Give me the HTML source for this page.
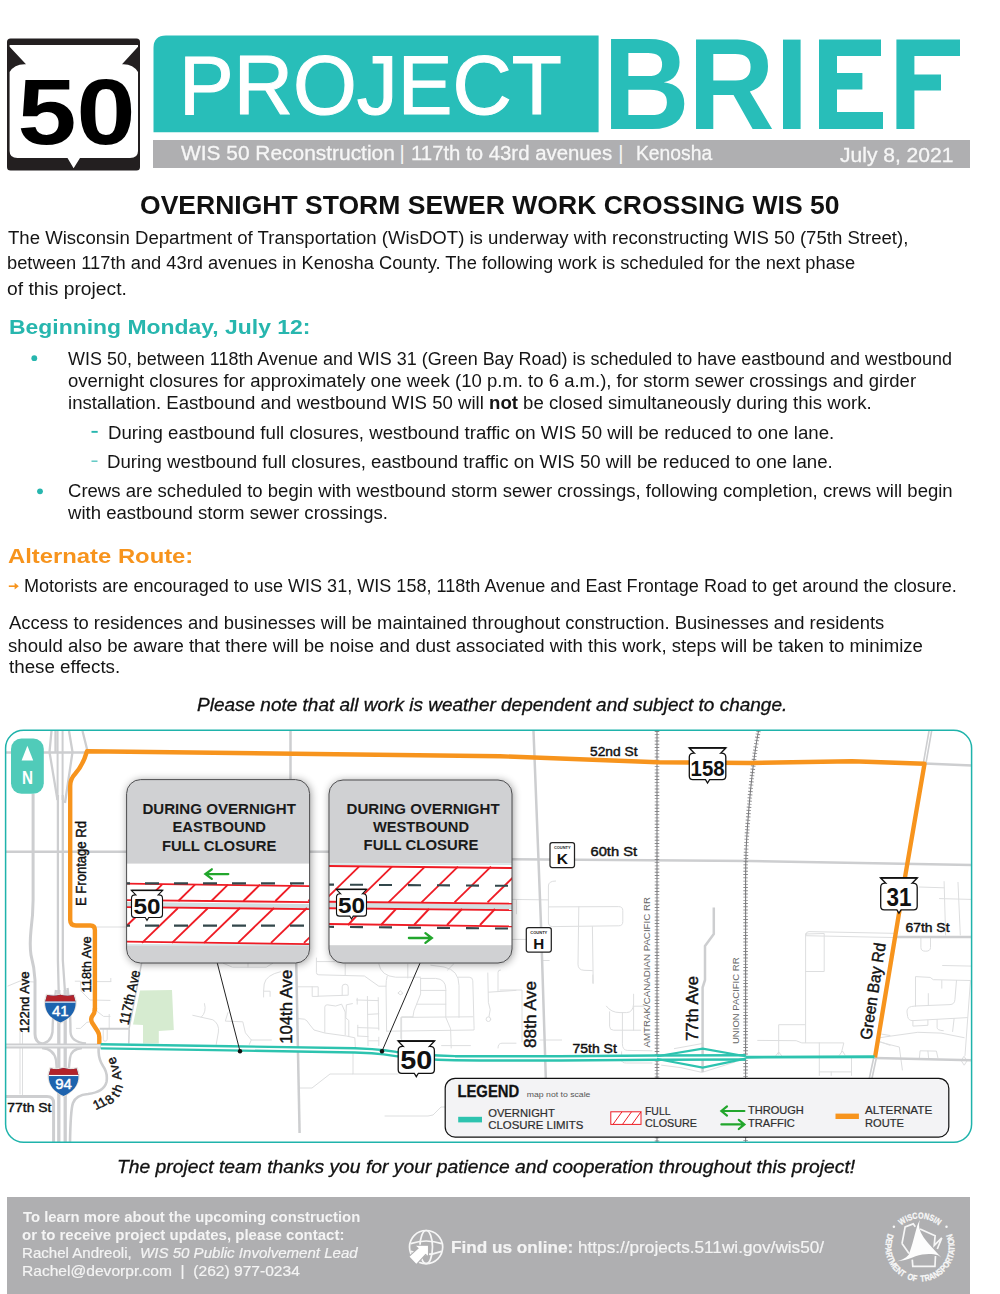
<!DOCTYPE html>
<html lang="en"><head><meta charset="utf-8"><title>WIS 50 Project Brief</title>
<style>
html,body{margin:0;padding:0;background:#fff}
body{width:1000px;height:1294px;position:relative;overflow:hidden;font-family:"Liberation Sans",sans-serif}
.t{position:absolute;white-space:pre;line-height:1;transform-origin:0 50%}
svg{position:absolute;left:0;top:0}
svg text{font-family:"Liberation Sans",sans-serif}
.gbar{position:absolute;background:#afafb1}
</style></head><body>
<svg width="1000" height="1294" viewBox="0 0 1000 1294">
<!-- WIS 50 shield -->
<rect x="7" y="38.5" width="133" height="132" rx="3.5" fill="#231f20"/>
<path d="M9.6 45 L138 45 L138 46.8 L122 64.2 Q133 63.6 138 72 L138 151 Q138 158 130 158 L80 158 L73.6 168.2 L67.5 158 L17.5 158 Q9.6 158 9.6 151 L9.6 72 Q14.5 63.6 26 64.2 L9.6 46.8 Z" fill="#fff"/>
<text x="76.5" y="143.6" font-size="93" font-weight="700" text-anchor="middle" textLength="118" lengthAdjust="spacingAndGlyphs" fill="#000">50</text>
<!-- teal title box -->
<path d="M153.5 132.3 L153.5 48 Q153.5 35.4 166 35.4 L598.6 35.4 L598.6 132.3 Z" fill="#28beb9"/>
<!-- I E F of BRIEF as exact bars -->
<g fill="#28beb9">
<rect x="783" y="39.6" width="17.6" height="89.4"/>
<path d="M819 39.6 H881 V56 H837 V73 H862.4 V89.4 H837 V112 H883 V129 H819 Z"/>
<path d="M896.4 39.6 H960 V56 H914.4 V74.4 H941 V90.6 H914.4 V129 H896.4 Z"/>
</g>
<!-- bullets -->
<circle cx="34.3" cy="358.2" r="2.9" fill="#27b6ae"/>
<circle cx="40" cy="491.3" r="2.9" fill="#27b6ae"/>
<rect x="91.5" y="430.9" width="6.2" height="1.9" fill="#27b6ae"/>
<rect x="91.5" y="460.6" width="6.0" height="1.1" fill="#27b6ae"/>
<!-- orange arrow -->
<path d="M8.8 586.2 H17" stroke="#f7941d" stroke-width="1.6" fill="none"/>
<path d="M14.6 582.8 L18.8 586.2 L14.6 589.6 Z" fill="#f7941d"/>
</svg>

<div class="gbar" style="left:153px;top:140px;width:817px;height:28px"></div>
<div class="gbar" style="left:7px;top:1197px;width:963px;height:97px"></div>
<svg width="1000" height="1294" viewBox="0 0 1000 1294">
<defs><clipPath id="mapclip"><rect x="5.6" y="730.3" width="966" height="412" rx="18"/></clipPath>
<filter id="sh" x="-15%" y="-15%" width="130%" height="135%"><feGaussianBlur in="SourceAlpha" stdDeviation="4.5"/><feOffset dx="0.5" dy="1.2"/><feComponentTransfer><feFuncA type="linear" slope="0.42"/></feComponentTransfer><feMerge><feMergeNode/><feMergeNode in="SourceGraphic"/></feMerge></filter>
<clipPath id="in1"><rect x="126.6" y="779.6" width="183" height="183.4" rx="14"/></clipPath>
<clipPath id="in2"><rect x="329" y="780" width="183" height="183" rx="14"/></clipPath>
</defs>
<rect x="5.6" y="730.3" width="966" height="412" rx="18" fill="#fff"/>
<g clip-path="url(#mapclip)">
<g fill="none" stroke="#dddedf" stroke-width="1" stroke-linecap="round" stroke-linejoin="round">
<path d="M20 1028 V1094"/>
<path d="M22.5 1032 V1096"/>
<path d="M8 986 L20 981 L34 982"/>
<path d="M75.2 981.2 H80.4 L81.2 991.2 L90 1000 L110 1000.4"/>
<path d="M97.2 981.6 H110.8 M110.8 978.4 V981.6"/>
<path d="M97 927 H127"/>
<path d="M96.4 1010.8 L103.6 1016.4 H110 M109.2 1014.4 V1028"/>
<path d="M76.4 1028.4 H80.4 L86.8 1022.4 L89.2 1022"/>
<path d="M103.2 1029.6 V1039.2 Q103.2 1041.2 105.2 1041.2 Q107.2 1041.2 107.2 1039.2 V1029.6"/>
<path d="M204.5 1003.6 Q206.8 1012 201.2 1017.2 L192.8 1015.3"/>
<path d="M201.2 1017.2 L212.9 1019.8 Q219.5 1024 218.4 1032 L216.2 1044.5"/>
<path d="M227.9 1012.7 L225.3 1021.1 L242.8 1021.8 L245.4 1032.8 L251.3 1040 H271.4 M251.3 1040 L249.3 1044.5"/>
<path d="M280.5 971.7 Q266 975 264.2 984 L263.6 991.2 V997 M263.6 991.2 H270.1 V996.4"/>
<path d="M223.3 963.3 L232.4 967.2 H266.2 L272.7 963.3 M248 963.3 V967.2"/>
<path d="M316.4 958 V972.4 Q316.4 974.8 318.8 974.8 L364.4 976 L378.8 986.2 H386"/>
<path d="M316.4 961.6 H345.2 M345.2 964 V974.8"/>
<path d="M378.8 964 Q381 976 395.6 977.2 H420.6"/>
<path d="M387.2 976 Q386 980 386 986.2 L386.6 1031"/>
<path d="M407.8 964 V978"/>
<path d="M297.8 986.8 H318.2 V996.4 H312.2 V986.8 M318.2 996.2 L348.2 995.2 V986.8 Q348.2 984.2 345.2 984.2 Q342.2 984.2 342.2 986.8 V995.2"/>
<path d="M324.8 1032.4 V1007.2 Q324.8 1004.8 327.2 1004.8 L335.6 1006 L341.6 1004.2 L345.2 1012 V1034.8"/>
<path d="M352.4 1003.6 L346.4 1004.8 L345.8 1018 L348.8 1020.4 V1036"/>
<path d="M298.4 1018.6 L304.4 1019.2 Q307 1020 309.2 1024 L314 1030 L324.8 1033 L346.4 1036 L354.8 1037.8 L355.4 1048"/>
<path d="M357.2 998.2 V1004.2 M367.4 996.4 L368 1045.6 M378.2 997.6 L378.8 1030 M378.8 1037.2 V1045.6 M357.8 1025.2 V1036"/>
<path d="M356.6 1000 L378.2 1000.6 M368 1014.4 L378.8 1013.8 M357.8 1027.6 L378.8 1028.2 M357.8 1036 L368 1036.6 M368.6 1040.8 H378.8"/>
<path d="M398.2 992.8 l2.2 -2 l2.6 2.6 l-2.4 1.2 z"/>
<path d="M401.6 1039.6 V1016.8 H412.8"/>
<path d="M386.6 1031.2 L474 1030 Q474.2 1029 474 1025.2 L472.8 980.8 Q472.6 977.2 469.2 977.2 H458.4"/>
<path d="M420.6 978.4 H435.6 Q445.8 979 445.8 989.2 V1017.4 L450.6 1028.8 L451.2 1048"/>
<path d="M420.6 978.4 V994 L414 1010.8 L412.8 1017.4"/>
<path d="M420.6 990.4 H445.8 M417 1004.2 H445.8"/>
<path d="M430.8 965.2 L444 967 Q459 970 459 985.6 V1017.4"/>
<path d="M447.6 970 L453.6 964"/>
<path d="M400.8 1038.4 V1017.4 L472.8 1016.8"/>
<path d="M441.6 1045.6 H470.4"/>
<path d="M487.8 973 L488.4 1002.4 L490.2 1009.6 L489 1016.6"/>
<path d="M488.4 992.2 L516 990.4 M498 991.6 V972.4 Q498 970 500.4 970"/>
<path d="M498 1048 Q498 1043.2 502 1043.2 H516"/>
<path d="M353 1048 V1074 H330 L312 1088 H299"/>
<path d="M353 1074 H398"/>
<path d="M385 1116 H428 Q434 1116 436 1112 L441 1107 H446"/>
<path d="M555.6 881 Q548.4 881 548.4 886 V922 Q548.4 926.6 552.6 926.6 L618.8 925.8 Q622.8 925.8 622.8 921.6 V910.6 Q622.8 906.6 618.6 906.6 L548.4 906.9"/>
<path d="M512 899.4 L548.4 899.9"/>
<path d="M516.4 900.2 V913.8"/>
<path d="M578.8 906.9 L578 964.2 Q578 970 584 970.3 L592.4 970.6"/>
<path d="M592.4 926.6 L593.2 983.4"/>
<path d="M512 939.4 H526"/>
<path d="M542 960.5 H549.2"/>
<path d="M500 990 H522 V1042"/>
<path d="M540 1040 H561.6"/>
<path d="M592.8 975 V983"/>
<path d="M606.4 1006.2 Q611 1012.6 620 1012.6 H626.4 Q633 1012.6 633.6 1004 V994.2"/>
<path d="M609.6 1011.8 V1026.2 Q609.6 1030.2 613.6 1030.2 H640.8"/>
<path d="M622.4 1012.6 V1043.8 Q622.4 1050 627.2 1050.4 L652 1050.8"/>
<path d="M633.6 1006.2 V1030.2 M633.6 1006.2 H644"/>
<path d="M621.6 1051.8 V1060 Q621.6 1063 626.4 1063 H652"/>
<path d="M674.4 1048.6 L702 1043.6 M661.6 1065.2 L680.8 1067.6 L702 1072.4 L735 1062"/>
<path d="M806 934.5 Q806 931.5 809 931.6 L897 933.4 M806 935.7 L897 937.6"/>
<path d="M805.6 934 V1042.5"/>
<path d="M805.6 934 L824.2 933.5 V971.5 H805.6"/>
<path d="M778.7 1054.4 V1024.7 H804.9"/>
<path d="M776 1055.5 L778.7 1052 L781.5 1055.5"/>
<path d="M757.7 1040.4 L796.2 1040.7 L801.8 1042.9 H843.8 L841.7 1051.6"/>
<path d="M839.5 1055 L842.4 1051 L845 1055"/>
<path d="M819.3 1042.9 V1075.4 M819.3 1071.9 H851.5 M851.5 1057.9 V1075.4 M831.2 1071.9 V1075.4"/>
<path d="M881.6 1034.1 L890 1035.5"/>
<path d="M880.2 1041.8 L890 1045.3"/>
<path d="M919.4 887 L944.1 887.8 M944.1 881.6 L945.6 935 M958 882.4 L960.3 935 M939.5 898.6 L971.1 899.4"/>
<path d="M920.9 938 V947.5 Q920.9 951.2 925.6 951.2 Q930.5 951.2 930.5 947.5 V938"/>
<path d="M942.6 965.5 L971.1 966.1"/>
<path d="M915.5 1006 V976.6 L930.2 977.4 L933.3 979.7 L970.4 980.5"/>
<path d="M941.8 980.5 V988.2"/>
<path d="M956.5 980.5 L954.9 999.8 Q954.5 1004.4 950 1004.6 L915.5 1006"/>
<path d="M928.3 993.6 V1005.2"/>
<path d="M915.5 1006 L911.5 1006.5 Q906.6 1007.5 907 1012 L907.6 1016.4 Q908.4 1020.8 913 1020.6 L967.3 1017.6"/>
<path d="M912.9 1020.7 V1026.1 L927.9 1025.3 V1020.2"/>
<path d="M937.1 1019.6 V1027.5 Q937.1 1030.4 943.3 1030.7"/>
<path d="M954.1 1018.7 L952.6 1031.5"/>
<path d="M878 1038 L890 1036.2 L917.8 1032.3 L941 1033.1 L964.2 1037.7"/>
<path d="M970.4 981.3 L965 1055.5"/>
<path d="M880 1042 L890 1044.7 L899.3 1047 L902.4 1070"/>
<path d="M919.4 1057.8 L920.1 1050.8 L936.4 1051.1 L937.9 1057.8 M927.9 1051.1 L928.6 1057.8"/>
<path d="M964.2 1056.6 l2.8 4.3 l-2.8 4.3 l-2.8 -4.3 z"/>
<circle cx="488.4" cy="1019.2" r="2.3"/>
</g>
<path d="M140 990.5 L172 990 L173.8 1030 L158.8 1031 L158.8 1043.5 L143 1043.5 L143 1025 L133 1024.5 Z" fill="#d6ebd0"/>
<g fill="none" stroke="#cdced0" stroke-linecap="butt" stroke-linejoin="round">
<path d="M5 1045.9 H101" stroke-width="5"/>
<path d="M33.1 794 V900 Q33 915 31 930 Q29.5 945 31 955 Q34.5 968 35 980 V1034 Q35 1042 42 1044" stroke-width="3"/>
<path d="M57.9 795 V960 L58.8 995 M62.8 795 V960 L65.2 995" stroke-width="2.3"/>
<path d="M58.8 990 V1143 M65.2 990 V1143" stroke-width="3.3"/>
<path d="M57.6 731 V800 M62.6 731 V800" stroke-width="2"/>
<path d="M51.5 731 L49.5 752 L57.5 800 M55.5 731 L55.5 752 M69 731 L72.5 752 L65 803 M82.5 731 L87.5 751" stroke-width="2.3"/>
<path d="M5 752.6 H86" stroke-width="2.5"/>
<path d="M5 851.7 H127" stroke-width="2.5"/>
<path d="M56 990 Q53 1010 52.5 1032 Q51 1043 40 1044" stroke-width="2.4"/>
<path d="M67.5 988 Q70.5 1010 70.5 1032 Q71 1042 86 1043.5" stroke-width="2.4"/>
<path d="M42 1048 Q54 1049 56 1060 L57 1072" stroke-width="2.4"/>
<path d="M82 1048 Q71 1049 70 1058 L68.5 1072" stroke-width="2.4"/>
<path d="M98.6 1048 V1052 Q99 1060 103 1066 Q108 1073 106.5 1082 Q104 1092 88 1094 Q76 1095 73 1103 Q70.5 1110 70 1143" stroke-width="2.6"/>
<path d="M5 1096.4 H47 Q53.6 1096.4 53.6 1103 V1143" stroke-width="3"/>
<path d="M99.6 1028.8 H129.2" stroke-width="2.1"/>
<path d="M141.8 962 L129.2 1028 L128.8 1043.5" stroke-width="1.5"/>
<path d="M290.5 731 V779" stroke-width="2.5"/>
<path d="M296.2 962 L299.6 1133" stroke-width="2.5"/>
<path d="M533.5 731 L541 925 L545.8 1078" stroke-width="2.5"/>
<path d="M512 859.3 L750 861 L972 865" stroke-width="2.5"/>
<path d="M310 851.7 H329" stroke-width="2.5"/>
<path d="M713.8 907.5 V934 L705 946 V980 L702.6 987.5 V1072" stroke-width="2.5"/>
<path d="M924.5 763.5 L972 765.5" stroke-width="2.5"/>
<path d="M924.5 764 L930.5 730" stroke-width="4.2"/>
<path d="M875 1058 L972 1060.3" stroke-width="2.5"/>
<path d="M875 1058 L870.5 1079" stroke-width="4.2"/>
<path d="M897 937 H972" stroke-width="2.5"/>
</g>
<g fill="none" stroke="#fff" stroke-width="1">
<path d="M5 1045.9 H101"/><path d="M924.7 763 L930.5 730"/><path d="M874.8 1059 L870.5 1079"/>
</g>
<path d="M657 731 V1143" fill="none" stroke="#8a8a8c" stroke-width="4.6" stroke-dasharray="0.9 2.3"/>
<path d="M657 731 V1143" fill="none" stroke="#7d7d80" stroke-width="1.1"/>
<path d="M758.5 731 Q752 765 747.6 825 Q745.6 850 745.6 880 V1143" fill="none" stroke="#8a8a8c" stroke-width="4.6" stroke-dasharray="0.9 2.3"/>
<path d="M758.5 731 Q752 765 747.6 825 Q745.6 850 745.6 880 V1143" fill="none" stroke="#7d7d80" stroke-width="1.1"/>
<path d="M94.9 1008 V1009 Q94.9 1013 92.3 1016 Q90.3 1019 92 1022.5 L97.8 1031.5 Q99.3 1034 99.3 1037 V1044" fill="none" stroke="#f7941d" stroke-width="4.4" stroke-linejoin="round"/>
<path d="M94.9 1011 V930 Q94.9 925.5 90.5 925.5 H76 Q70.2 925.5 70.2 920 V786 Q70.2 779 75 774 Q83 765 86.5 752.6 L87 751.3 L500 756.2 L657.5 762.3 L750 763 L852 761.3 L924.5 763.8 L905.4 875 L875 1057.5" fill="none" stroke="#f7941d" stroke-width="4.4" stroke-linejoin="round"/>
<g fill="none" stroke="#2dc3af">
<path d="M100.7 1046.3 L230 1048.3 L355 1050.4 L372 1051.2 L384 1052.3 L396 1054 L410 1055.6 L424 1056.8 L438 1057.6 L455 1058.2 L480 1058.4 L560 1058.4 L657 1057.6 L745.6 1057.4" stroke-width="6.6"/>
<path d="M100.7 1046.3 L230 1048.3 L355 1050.4 L372 1051.2 L384 1052.3 L396 1054 L410 1055.6 L424 1056.8 L438 1057.6 L455 1058.2 L480 1058.4 L560 1058.4 L657 1057.6 L745.6 1057.4" stroke="#fff" stroke-width="1.8"/>
<path d="M657 1056.2 L702.7 1048.6 L745.6 1056.2 M657 1059 L702.7 1067.6 L745.6 1058.6" stroke-width="2.1" stroke-linejoin="miter"/>
<path d="M745.6 1057.2 L874.5 1056.7" stroke-width="2.9"/>
</g>
</g>
<text x="590.00" y="756.00" font-size="12.5" font-weight="400" text-anchor="start" fill="#111" stroke="#111" stroke-width="0.42" textLength="47.5" lengthAdjust="spacingAndGlyphs">52nd St</text>
<text x="590.50" y="856.00" font-size="12.5" font-weight="400" text-anchor="start" fill="#111" stroke="#111" stroke-width="0.42" textLength="46.5" lengthAdjust="spacingAndGlyphs">60th St</text>
<text x="905.50" y="932.00" font-size="12.5" font-weight="400" text-anchor="start" fill="#111" stroke="#111" stroke-width="0.42" textLength="44.0" lengthAdjust="spacingAndGlyphs">67th St</text>
<text x="572.50" y="1052.50" font-size="12.5" font-weight="400" text-anchor="start" fill="#111" stroke="#111" stroke-width="0.42" textLength="44.3" lengthAdjust="spacingAndGlyphs">75th St</text>
<text x="7.30" y="1112.00" font-size="12.5" font-weight="400" text-anchor="start" fill="#111" stroke="#111" stroke-width="0.42" textLength="44.2" lengthAdjust="spacingAndGlyphs">77th St</text>
<text x="86.20" y="906.00" font-size="14.5" font-weight="400" text-anchor="start" fill="#111" stroke="#111" stroke-width="0.42" textLength="85.0" lengthAdjust="spacingAndGlyphs" transform="rotate(-90.00 86.20 906.00)">E Frontage Rd</text>
<text x="29.30" y="1033.00" font-size="13.5" font-weight="400" text-anchor="start" fill="#111" stroke="#111" stroke-width="0.42" textLength="61.5" lengthAdjust="spacingAndGlyphs" transform="rotate(-90.00 29.30 1033.00)">122nd Ave</text>
<text x="91.40" y="992.40" font-size="13.5" font-weight="400" text-anchor="start" fill="#111" stroke="#111" stroke-width="0.42" textLength="56.0" lengthAdjust="spacingAndGlyphs" transform="rotate(-90.00 91.40 992.40)">118th Ave</text>
<text x="128.40" y="1025.40" font-size="14" font-weight="400" text-anchor="start" fill="#111" stroke="#111" stroke-width="0.42" textLength="55.5" lengthAdjust="spacingAndGlyphs" transform="rotate(-77.50 128.40 1025.40)">117th Ave</text>
<text x="99.0" y="1108.7" font-size="13" text-anchor="middle" fill="#111" stroke="#111" stroke-width="0.42" transform="rotate(-27 99.0 1108.7)">1</text>
<text x="104.6" y="1106.0" font-size="13" text-anchor="middle" fill="#111" stroke="#111" stroke-width="0.42" transform="rotate(-31 104.6 1106.0)">1</text>
<text x="112.4" y="1103.0" font-size="13" text-anchor="middle" fill="#111" stroke="#111" stroke-width="0.42" transform="rotate(-41 112.4 1103.0)">8</text>
<text x="118.9" y="1096.8" font-size="13" text-anchor="middle" fill="#111" stroke="#111" stroke-width="0.42" transform="rotate(-55 118.9 1096.8)">t</text>
<text x="122.0" y="1089.6" font-size="13" text-anchor="middle" fill="#111" stroke="#111" stroke-width="0.42" transform="rotate(-70 122.0 1089.6)">h</text>
<text x="121.2" y="1075.2" font-size="13" text-anchor="middle" fill="#111" stroke="#111" stroke-width="0.42" transform="rotate(-95 121.2 1075.2)">A</text>
<text x="118.4" y="1067.2" font-size="13" text-anchor="middle" fill="#111" stroke="#111" stroke-width="0.42" transform="rotate(-105 118.4 1067.2)">v</text>
<text x="115.9" y="1059.4" font-size="13" text-anchor="middle" fill="#111" stroke="#111" stroke-width="0.42" transform="rotate(-112 115.9 1059.4)">e</text>
<text x="292.20" y="1043.80" font-size="17" font-weight="400" text-anchor="start" fill="#111" stroke="#111" stroke-width="0.42" textLength="74.0" lengthAdjust="spacingAndGlyphs" transform="rotate(-90.00 292.20 1043.80)">104th Ave</text>
<text x="535.50" y="1048.00" font-size="17" font-weight="400" text-anchor="start" fill="#111" stroke="#111" stroke-width="0.42" textLength="67.0" lengthAdjust="spacingAndGlyphs" transform="rotate(-90.00 535.50 1048.00)">88th Ave</text>
<text x="698.00" y="1041.00" font-size="17" font-weight="400" text-anchor="start" fill="#111" stroke="#111" stroke-width="0.42" textLength="65.0" lengthAdjust="spacingAndGlyphs" transform="rotate(-90.00 698.00 1041.00)">77th Ave</text>
<text x="871.30" y="1040.20" font-size="16.5" font-weight="400" text-anchor="start" fill="#111" stroke="#111" stroke-width="0.42" textLength="97.5" lengthAdjust="spacingAndGlyphs" transform="rotate(-81.50 871.30 1040.20)">Green Bay Rd</text>
<text x="650.30" y="1047.50" font-size="8.6" font-weight="400" text-anchor="start" fill="#666" textLength="150.5" lengthAdjust="spacingAndGlyphs" transform="rotate(-90.00 650.30 1047.50)">AMTRAK/CANADIAN PACIFIC RR</text>
<text x="738.80" y="1044.00" font-size="8.6" font-weight="400" text-anchor="start" fill="#666" textLength="86.5" lengthAdjust="spacingAndGlyphs" transform="rotate(-90.00 738.80 1044.00)">UNION PACIFIC RR</text>
<path d="M689.10 747.80 L726.00 747.80 L720.67 753.18 Q725.80 752.88 725.80 757.09 L725.80 776.08 Q725.80 779.63 722.25 779.63 L709.61 779.63 L707.55 783.00 L705.49 779.63 L692.85 779.63 Q689.30 779.63 689.30 776.08 L689.30 757.09 Q689.30 752.88 694.42 753.18 Z" fill="#fff" stroke="#111" stroke-width="1.30" stroke-linejoin="miter"/>
<path d="M689.20 747.90 H725.90" stroke="#111" stroke-width="1.69"/>
<text x="707.55" y="775.72" font-size="22.7" font-weight="700" text-anchor="middle" fill="#111" textLength="34.0" lengthAdjust="spacingAndGlyphs">158</text>
<path d="M880.50 877.80 L917.40 877.80 L912.08 883.21 Q917.20 882.91 917.20 887.14 L917.20 906.24 Q917.20 909.81 913.63 909.81 L901.01 909.81 L898.95 913.20 L896.89 909.81 L884.27 909.81 Q880.70 909.81 880.70 906.24 L880.70 887.14 Q880.70 882.91 885.83 883.21 Z" fill="#fff" stroke="#111" stroke-width="1.30" stroke-linejoin="miter"/>
<path d="M880.60 877.90 H917.30" stroke="#111" stroke-width="1.69"/>
<text x="898.95" y="905.88" font-size="25.9" font-weight="700" text-anchor="middle" fill="#111" textLength="25.0" lengthAdjust="spacingAndGlyphs">31</text>
<path d="M398.00 1041.00 L434.60 1041.00 L429.32 1046.46 Q434.40 1046.16 434.40 1050.42 L434.40 1069.68 Q434.40 1073.28 430.80 1073.28 L418.35 1073.28 L416.30 1076.70 L414.25 1073.28 L401.80 1073.28 Q398.20 1073.28 398.20 1069.68 L398.20 1050.42 Q398.20 1046.16 403.28 1046.46 Z" fill="#fff" stroke="#111" stroke-width="1.30" stroke-linejoin="miter"/>
<path d="M398.10 1041.10 H434.50" stroke="#111" stroke-width="1.69"/>
<text x="416.30" y="1069.32" font-size="26.1" font-weight="700" text-anchor="middle" fill="#111" textLength="32.0" lengthAdjust="spacingAndGlyphs">50</text>
<rect x="550.00" y="842.50" width="24.50" height="25.00" rx="2.2" fill="#fff" stroke="#222" stroke-width="1.25"/>
<text x="562.25" y="849.00" font-size="4" font-weight="700" text-anchor="middle" fill="#222" textLength="16.7" lengthAdjust="spacingAndGlyphs">COUNTY</text>
<text x="562.25" y="864.00" font-size="15.5" font-weight="700" text-anchor="middle" fill="#111">K</text>
<rect x="526.30" y="927.50" width="25.00" height="24.50" rx="2.2" fill="#fff" stroke="#222" stroke-width="1.25"/>
<text x="538.80" y="933.87" font-size="4" font-weight="700" text-anchor="middle" fill="#222" textLength="17.0" lengthAdjust="spacingAndGlyphs">COUNTY</text>
<text x="538.80" y="948.57" font-size="15.19" font-weight="700" text-anchor="middle" fill="#111">H</text>
<path d="M46.23 994.20 Q52.97 995.85 60.35 993.90 Q67.73 995.85 74.47 994.20 L76.40 1001.10 C76.88 1011.60 69.98 1018.20 60.35 1023.60 C50.72 1018.20 43.82 1011.60 44.30 1001.10 Z" fill="#f3ece4" stroke="#d9d2cc" stroke-width="0.5"/>
<clipPath id="ic1436"><path d="M47.03 995.00 Q53.77 996.65 60.35 994.70 Q66.93 996.65 73.67 995.00 L75.60 1001.90 C76.08 1012.40 69.18 1019.00 60.35 1022.48 C51.52 1019.00 44.62 1012.40 45.10 1001.90 Z"/></clipPath>
<g clip-path="url(#ic1436)"><rect x="44.30" y="993.60" width="32.10" height="30.00" fill="#1d63ae"/><rect x="44.30" y="993.60" width="32.10" height="7.95" fill="#b2232a"/><rect x="44.30" y="1001.55" width="32.10" height="1.1" fill="#fff"/></g>
<text x="60.35" y="1015.95" font-size="15.0" text-anchor="middle" fill="#fff" stroke="#fff" stroke-width="0.45">41</text>
<path d="M49.78 1067.60 Q56.38 1069.25 63.60 1067.30 Q70.82 1069.25 77.42 1067.60 L79.30 1074.50 C79.77 1085.00 73.02 1091.60 63.60 1097.00 C54.18 1091.60 47.43 1085.00 47.90 1074.50 Z" fill="#f3ece4" stroke="#d9d2cc" stroke-width="0.5"/>
<clipPath id="ic1546"><path d="M50.58 1068.40 Q57.18 1070.05 63.60 1068.10 Q70.02 1070.05 76.62 1068.40 L78.50 1075.30 C78.97 1085.80 72.22 1092.40 63.60 1095.88 C54.98 1092.40 48.23 1085.80 48.70 1075.30 Z"/></clipPath>
<g clip-path="url(#ic1546)"><rect x="47.90" y="1067.00" width="31.40" height="30.00" fill="#1d63ae"/><rect x="47.90" y="1067.00" width="31.40" height="7.95" fill="#b2232a"/><rect x="47.90" y="1074.95" width="31.40" height="1.1" fill="#fff"/></g>
<text x="63.60" y="1089.35" font-size="15.0" text-anchor="middle" fill="#fff" stroke="#fff" stroke-width="0.45">94</text>
<path d="M217 962 L240 1051.2 M420.5 962 L382 1051.2" stroke="#222" stroke-width="1" fill="none"/>
<circle cx="240" cy="1051.3" r="2.2" fill="#111"/><circle cx="382" cy="1051.3" r="2.2" fill="#111"/>
<g filter="url(#sh)"><rect x="126.6" y="779.6" width="183.0" height="183.4" rx="14" fill="#d0d1d3"/></g>
<g clip-path="url(#in1)">
<rect x="126.6" y="863.6" width="183.0" height="81" fill="#fff"/>
<rect x="126.6" y="944.2" width="183.0" height="1.6" fill="#d7e6e8"/>
<path d="M126.6 902 L309.6 904 L309.6 908.6 L126.6 906.6 Z" fill="#d2dfe1"/>
<g stroke="#ee1c25" stroke-width="1.85" fill="none">
<path d="M126.6 883.70 L309.6 886.10"/>
<path d="M126.6 900.10 L309.6 902.10"/>
<path d="M126.6 907.10 L309.6 909.10"/>
<path d="M126.6 941.70 L309.6 944.10"/>
<path d="M162.00 884.70 L145.40 901.00"/>
<path d="M195.00 884.70 L178.40 901.00"/>
<path d="M228.00 884.70 L211.40 901.00"/>
<path d="M260.00 884.70 L243.40 901.00"/>
<path d="M292.00 884.70 L275.40 901.00"/>
<path d="M325.00 884.70 L308.40 901.00"/>
<path d="M145.00 908.00 L109.00 942.80"/>
<path d="M178.00 908.00 L142.00 942.80"/>
<path d="M208.00 908.00 L172.00 942.80"/>
<path d="M240.00 908.00 L204.00 942.80"/>
<path d="M274.00 908.00 L238.00 942.80"/>
<path d="M307.00 908.00 L271.00 942.80"/>
<path d="M340.00 908.00 L304.00 942.80"/>
</g>
<path d="M126.6 883.4 H309.6" stroke="#33474b" stroke-width="2.1" stroke-dasharray="14 15" stroke-dashoffset="10.6" fill="none"/>
<path d="M126.6 925.6 H309.6" stroke="#33474b" stroke-width="2.1" stroke-dasharray="14 15" stroke-dashoffset="10.6" fill="none"/>
<path d="M228.3 874.1 H206.2 M211.8 869.3 L205.4 874.1 L211.8 878.9" stroke="#22a62c" stroke-width="2.3" stroke-linecap="round" fill="none"/>
</g>
<rect x="126.6" y="779.6" width="183.0" height="183.4" rx="14" fill="none" stroke="#4d4d4f" stroke-width="1"/>
<g filter="url(#sh)"><rect x="329.0" y="780.0" width="183.0" height="183.0" rx="14" fill="#d0d1d3"/></g>
<g clip-path="url(#in2)">
<rect x="329.0" y="863.2" width="183.0" height="82" fill="#fff"/>
<rect x="329.0" y="863.2" width="183.0" height="1.8" fill="#d7e6e8"/>
<path d="M329.0 902.6 L512.0 904.6 L512.0 909.4 L329.0 907.4 Z" fill="#d2dfe1"/>
<g stroke="#ee1c25" stroke-width="1.85" fill="none">
<path d="M329.0 866.00 L512.0 868.00"/>
<path d="M329.0 901.70 L512.0 903.70"/>
<path d="M329.0 908.20 L512.0 910.20"/>
<path d="M329.0 924.00 L512.0 926.40"/>
<path d="M326.00 866.60 L289.50 902.40"/>
<path d="M359.00 866.60 L322.50 902.40"/>
<path d="M392.00 866.60 L355.50 902.40"/>
<path d="M425.00 866.60 L388.50 902.40"/>
<path d="M458.00 866.60 L421.50 902.40"/>
<path d="M491.00 866.60 L454.50 902.40"/>
<path d="M524.00 866.60 L487.50 902.40"/>
<path d="M557.00 866.60 L520.50 902.40"/>
<path d="M363.00 909.00 L348.00 925.00"/>
<path d="M396.00 909.00 L381.00 925.00"/>
<path d="M429.00 909.00 L414.00 925.00"/>
<path d="M462.00 909.00 L447.00 925.00"/>
<path d="M495.00 909.00 L480.00 925.00"/>
<path d="M528.00 909.00 L513.00 925.00"/>
</g>
<path d="M329.0 884.6 L512.0 885.8" stroke="#33474b" stroke-width="2.1" stroke-dasharray="13 16" stroke-dashoffset="8" fill="none"/>
<path d="M329.0 926.8 L512.0 928.6" stroke="#33474b" stroke-width="2.1" stroke-dasharray="13 16" stroke-dashoffset="8" fill="none"/>
<path d="M408.9 938 H431 M425.4 933.2 L431.8 938 L425.4 942.8" stroke="#22a62c" stroke-width="2.3" stroke-linecap="round" fill="none"/>
</g>
<rect x="329.0" y="780.0" width="183.0" height="183.0" rx="14" fill="none" stroke="#4d4d4f" stroke-width="1"/>
<path d="M131.30 890.30 L162.70 890.30 L158.20 894.86 Q162.50 894.56 162.50 898.21 L162.50 914.47 Q162.50 917.51 159.46 917.51 L148.76 917.51 L147.00 920.40 L145.24 917.51 L134.54 917.51 Q131.50 917.51 131.50 914.47 L131.50 898.21 Q131.50 894.56 135.80 894.86 Z" fill="#fff" stroke="#111" stroke-width="1.10" stroke-linejoin="miter"/>
<path d="M131.40 890.40 H162.60" stroke="#111" stroke-width="1.43"/>
<text x="147.00" y="914.17" font-size="22.0" font-weight="700" text-anchor="middle" fill="#111" textLength="27.0" lengthAdjust="spacingAndGlyphs">50</text>
<path d="M336.30 889.30 L366.70 889.30 L362.35 893.80 Q366.50 893.50 366.50 897.10 L366.50 913.15 Q366.50 916.15 363.50 916.15 L353.20 916.15 L351.50 919.00 L349.80 916.15 L339.50 916.15 Q336.50 916.15 336.50 913.15 L336.50 897.10 Q336.50 893.50 340.65 893.80 Z" fill="#fff" stroke="#111" stroke-width="1.10" stroke-linejoin="miter"/>
<path d="M336.40 889.40 H366.60" stroke="#111" stroke-width="1.43"/>
<text x="351.50" y="912.85" font-size="21.8" font-weight="700" text-anchor="middle" fill="#111" textLength="27.0" lengthAdjust="spacingAndGlyphs">50</text>
<text x="142.40" y="814.00" font-size="14.3" font-weight="700" text-anchor="start" fill="#1a1a1a" textLength="153.6" lengthAdjust="spacingAndGlyphs">DURING OVERNIGHT</text>
<text x="172.40" y="832.40" font-size="14.3" font-weight="700" text-anchor="start" fill="#1a1a1a" textLength="93.6" lengthAdjust="spacingAndGlyphs">EASTBOUND</text>
<text x="162.00" y="850.60" font-size="14.3" font-weight="700" text-anchor="start" fill="#1a1a1a" textLength="114.4" lengthAdjust="spacingAndGlyphs">FULL CLOSURE</text>
<text x="346.60" y="813.60" font-size="14.3" font-weight="700" text-anchor="start" fill="#1a1a1a" textLength="153.0" lengthAdjust="spacingAndGlyphs">DURING OVERNIGHT</text>
<text x="373.00" y="832.00" font-size="14.3" font-weight="700" text-anchor="start" fill="#1a1a1a" textLength="96.0" lengthAdjust="spacingAndGlyphs">WESTBOUND</text>
<text x="363.60" y="850.00" font-size="14.3" font-weight="700" text-anchor="start" fill="#1a1a1a" textLength="114.8" lengthAdjust="spacingAndGlyphs">FULL CLOSURE</text>
<rect x="445.2" y="1078.3" width="503.6" height="58.8" rx="10" fill="#f3f3f5" stroke="#111" stroke-width="1.2"/>
<text x="457.40" y="1097.20" font-size="17.2" font-weight="700" text-anchor="start" fill="#111" stroke="#111" stroke-width="0.30" textLength="61.8" lengthAdjust="spacingAndGlyphs">LEGEND</text>
<text x="526.80" y="1097.00" font-size="8" font-weight="400" text-anchor="start" fill="#555" textLength="63.6" lengthAdjust="spacingAndGlyphs">map not to scale</text>
<rect x="458.2" y="1116.8" width="23.8" height="5.6" fill="#2dc3af"/>
<text x="488.20" y="1117.40" font-size="11" font-weight="400" text-anchor="start" fill="#2e2e2e" stroke="#2e2e2e" stroke-width="0.20" textLength="66.6" lengthAdjust="spacingAndGlyphs">OVERNIGHT</text>
<text x="488.20" y="1129.40" font-size="11" font-weight="400" text-anchor="start" fill="#2e2e2e" stroke="#2e2e2e" stroke-width="0.20" textLength="95.2" lengthAdjust="spacingAndGlyphs">CLOSURE LIMITS</text>
<rect x="610.8" y="1111.8" width="30.2" height="12.6" fill="#fff" stroke="#ed1c24" stroke-width="1"/>
<path d="M613 1124.4 L622 1111.8 M622.5 1124.4 L631.5 1111.8 M632 1124.4 L641 1111.8" stroke="#ed1c24" stroke-width="1" fill="none"/>
<text x="645.00" y="1114.60" font-size="11" font-weight="400" text-anchor="start" fill="#2e2e2e" stroke="#2e2e2e" stroke-width="0.20" textLength="25.5" lengthAdjust="spacingAndGlyphs">FULL</text>
<text x="645.00" y="1126.60" font-size="11" font-weight="400" text-anchor="start" fill="#2e2e2e" stroke="#2e2e2e" stroke-width="0.20" textLength="52.0" lengthAdjust="spacingAndGlyphs">CLOSURE</text>
<path d="M744.4 1111 H722 M727 1106.4 L721.4 1111 L727 1115.6" stroke="#22a62c" stroke-width="2.2" stroke-linecap="round" fill="none"/>
<path d="M721.4 1124.4 H743.8 M738.8 1119.8 L744.4 1124.4 L738.8 1129" stroke="#22a62c" stroke-width="2.2" stroke-linecap="round" fill="none"/>
<text x="748.00" y="1114.30" font-size="11" font-weight="400" text-anchor="start" fill="#2e2e2e" stroke="#2e2e2e" stroke-width="0.20" textLength="55.8" lengthAdjust="spacingAndGlyphs">THROUGH</text>
<text x="748.00" y="1127.00" font-size="11" font-weight="400" text-anchor="start" fill="#2e2e2e" stroke="#2e2e2e" stroke-width="0.20" textLength="46.8" lengthAdjust="spacingAndGlyphs">TRAFFIC</text>
<rect x="835.5" y="1113.6" width="23.4" height="5.4" fill="#f7941d"/>
<text x="865.00" y="1114.30" font-size="11" font-weight="400" text-anchor="start" fill="#2e2e2e" stroke="#2e2e2e" stroke-width="0.20" textLength="67.3" lengthAdjust="spacingAndGlyphs">ALTERNATE</text>
<text x="865.00" y="1127.00" font-size="11" font-weight="400" text-anchor="start" fill="#2e2e2e" stroke="#2e2e2e" stroke-width="0.20" textLength="38.8" lengthAdjust="spacingAndGlyphs">ROUTE</text>
<rect x="11" y="738.5" width="32.8" height="55.3" rx="10.5" fill="#50cbb9"/>
<path d="M27.4 745.8 L33.2 760.4 L21.6 760.4 Z" fill="#fff"/>
<text x="27.5" y="783.8" font-size="17.5" font-weight="700" text-anchor="middle" fill="#fff" textLength="11" lengthAdjust="spacingAndGlyphs">N</text>
<rect x="5.6" y="730.3" width="966" height="412" rx="18" fill="none" stroke="#1fb3ab" stroke-width="1.5"/>
</svg>
<svg width="1000" height="1294" viewBox="0 0 1000 1294">
<!-- globe icon -->
<g fill="none" stroke="#f6f6f6" stroke-width="1.7">
<circle cx="426.1" cy="1247.1" r="16.6"/>
<ellipse cx="426.2" cy="1247.1" rx="6.3" ry="16.6"/>
<path d="M410.6 1243.6 Q426.2 1238.4 441.8 1243.6 M410.8 1251.4 Q426.2 1257.4 441.6 1251.4"/>
</g>
<path d="M414.4 1245.3 L428.5 1245.3 L428.5 1256.8 L425.6 1254.4 L416.3 1264.6 L408.8 1256.7 L418 1248.2 Z" fill="#fff" stroke="#afafb1" stroke-width="1.1" stroke-linejoin="miter"/>
<!-- WisDOT seal -->
<g transform="translate(875 1202) scale(0.09)">
<path d="M300 462 L335 276 L425 243 L448 275 M500 300 L668 375 L658 482 L742 398 L692 522 M672 600 L666 716 L420 716 L414 640 M378 572 L300 462" fill="none" stroke="#f6f6f6" stroke-width="19" stroke-linejoin="miter"/>
<path d="M500 200 C455 260 440 420 375 585 C340 625 290 650 240 657 C330 652 400 622 450 602 C540 570 640 570 700 592 C725 605 745 625 762 652 C720 590 620 500 560 420 C510 350 470 280 500 200 Z" fill="#fdfdfd"/>
</g>
<defs>
<path id="arcTop" d="M891.5 1247 A28.4 28.4 0 0 1 948.3 1247"/>
<path id="arcBot" d="M888.15 1233.48 A34.6 34.6 0 1 0 951.61 1232.93"/>
</defs>
<text font-size="8.8" font-weight="700" fill="#f8f8f8" stroke="#f8f8f8" stroke-width="0.25" text-anchor="middle"><textPath href="#arcTop" startOffset="50%" textLength="41" lengthAdjust="spacingAndGlyphs">WISCONSIN</textPath></text>
<circle cx="893.9" cy="1226.8" r="1.25" fill="#f6f6f6"/><circle cx="946.5" cy="1226.8" r="1.25" fill="#f6f6f6"/>
<text font-size="8.8" font-weight="700" fill="#f8f8f8" stroke="#f8f8f8" stroke-width="0.25"><textPath href="#arcBot" startOffset="0" textLength="136.1" lengthAdjust="spacingAndGlyphs">DEPARTMENT &#160;OF &#160;TRANSPORTATION</textPath></text>
</svg>

<div class="t" style="left:179.14px;top:43.39px;font-size:84px;color:#fff;transform:scaleX(0.9766);-webkit-text-stroke:1.1px #fff;">PROJECT</div>
<div class="t" style="left:602.68px;top:18.95px;font-size:130px;color:#28beb9;font-weight:700;transform:scaleX(0.9241);">B</div>
<div class="t" style="left:687.70px;top:18.95px;font-size:130px;color:#28beb9;font-weight:700;transform:scaleX(0.9220);">R</div>
<div class="t" style="left:180.50px;top:143.07px;font-size:20px;color:#f6f6f6;transform:scaleX(1.0453);-webkit-text-stroke:0.3px #f6f6f6;">WIS 50 Reconstruction</div>
<div class="t" style="left:399.50px;top:143.07px;font-size:20px;color:#f6f6f6;">|</div>
<div class="t" style="left:411.18px;top:143.07px;font-size:20px;color:#f6f6f6;transform:scaleX(1.0179);-webkit-text-stroke:0.3px #f6f6f6;">117th to 43rd avenues</div>
<div class="t" style="left:618.30px;top:143.07px;font-size:20px;color:#f6f6f6;">|</div>
<div class="t" style="left:636.34px;top:143.07px;font-size:20px;color:#f6f6f6;transform:scaleX(0.9641);-webkit-text-stroke:0.3px #f6f6f6;">Kenosha</div>
<div class="t" style="left:840.00px;top:144.57px;font-size:20px;color:#f6f6f6;transform:scaleX(1.0514);-webkit-text-stroke:0.3px #f6f6f6;">July 8, 2021</div>
<div class="t" style="left:139.94px;top:192.59px;font-size:25px;color:#111;font-weight:700;transform:scaleX(1.0609);">OVERNIGHT STORM SEWER WORK CROSSING WIS 50</div>
<div class="t" style="left:8.00px;top:229.26px;font-size:18px;color:#151515;transform:scaleX(1.0321);">The Wisconsin Department of Transportation (WisDOT) is underway with reconstructing WIS 50 (75th Street),</div>
<div class="t" style="left:7.38px;top:254.26px;font-size:18px;color:#151515;transform:scaleX(1.0163);">between 117th and 43rd avenues in Kenosha County. The following work is scheduled for the next phase</div>
<div class="t" style="left:7.33px;top:279.76px;font-size:18px;color:#151515;transform:scaleX(1.0697);">of this project.</div>
<div class="t" style="left:8.88px;top:317.15px;font-size:20.5px;color:#27b6ae;font-weight:700;transform:scaleX(1.1180);">Beginning Monday, July 12:</div>
<div class="t" style="left:68.00px;top:349.76px;font-size:18px;color:#151515;transform:scaleX(0.9977);">WIS 50, between 118th Avenue and WIS 31 (Green Bay Road) is scheduled to have eastbound and westbound</div>
<div class="t" style="left:67.77px;top:371.76px;font-size:18px;color:#151515;transform:scaleX(1.0288);">overnight closures for approximately one week (10 p.m. to 6 a.m.), for storm sewer crossings and girder</div>
<div class="t" style="left:68.27px;top:393.51px;font-size:18px;color:#151515;transform:scaleX(1.0338);">installation. Eastbound and westbound WIS 50 will <b>not</b> be closed simultaneously during this work.</div>
<div class="t" style="left:107.96px;top:423.51px;font-size:18px;color:#151515;transform:scaleX(1.0358);">During eastbound full closures, westbound traffic on WIS 50 will be reduced to one lane.</div>
<div class="t" style="left:106.96px;top:452.76px;font-size:18px;color:#151515;transform:scaleX(1.0351);">During westbound full closures, eastbound traffic on WIS 50 will be reduced to one lane.</div>
<div class="t" style="left:67.77px;top:482.26px;font-size:18px;color:#151515;transform:scaleX(1.0294);">Crews are scheduled to begin with westbound storm sewer crossings, following completion, crews will begin</div>
<div class="t" style="left:68.00px;top:504.01px;font-size:18px;color:#151515;transform:scaleX(1.0316);">with eastbound storm sewer crossings.</div>
<div class="t" style="left:8.37px;top:544.72px;font-size:21px;color:#f7941d;font-weight:700;transform:scaleX(1.1344);">Alternate Route:</div>
<div class="t" style="left:24.00px;top:577.26px;font-size:18px;color:#151515;transform:scaleX(1.0032);">Motorists are encouraged to use WIS 31, WIS 158, 118th Avenue and East Frontage Road to get around the closure.</div>
<div class="t" style="left:9.00px;top:614.26px;font-size:18px;color:#151515;transform:scaleX(1.0219);">Access to residences and businesses will be maintained throughout construction. Businesses and residents</div>
<div class="t" style="left:7.57px;top:636.51px;font-size:18px;color:#151515;transform:scaleX(1.0333);">should also be aware that there will be noise and dust associated with this work, steps will be taken to minimize</div>
<div class="t" style="left:8.60px;top:657.76px;font-size:18px;color:#151515;transform:scaleX(1.0419);">these effects.</div>
<div class="t" style="left:196.75px;top:697.19px;font-size:17.5px;color:#111;font-style:italic;transform:scaleX(1.0853);-webkit-text-stroke:0.3px #111;">Please note that all work is weather dependent and subject to change.</div>
<div class="t" style="left:116.54px;top:1158.99px;font-size:17.5px;color:#111;font-style:italic;transform:scaleX(1.1029);-webkit-text-stroke:0.3px #111;">The project team thanks you for your patience and cooperation throughout this project!</div>
<div class="t" style="left:23.00px;top:1210.23px;font-size:14.5px;color:#f4f4f4;font-weight:700;transform:scaleX(1.0244);">To learn more about the upcoming construction</div>
<div class="t" style="left:21.97px;top:1228.23px;font-size:14.5px;color:#f4f4f4;font-weight:700;transform:scaleX(1.0339);">or to receive project updates, please contact:</div>
<div class="t" style="left:21.96px;top:1246.48px;font-size:14.5px;color:#f4f4f4;transform:scaleX(1.0387);-webkit-text-stroke:0.2px #f4f4f4;">Rachel Andreoli,&nbsp; <i>WIS 50 Public Involvement Lead</i></div>
<div class="t" style="left:21.93px;top:1263.98px;font-size:14.5px;color:#f4f4f4;transform:scaleX(1.0739);-webkit-text-stroke:0.2px #f4f4f4;">Rachel@devorpr.com&nbsp; |&nbsp; (262) 977-0234</div>
<div class="t" style="left:450.99px;top:1238.61px;font-size:17px;color:#f4f4f4;transform:scaleX(1.0109);-webkit-text-stroke:0.2px #f4f4f4;"><b>Find us online:</b> https://projects.511wi.gov/wis50/</div>
</body></html>
